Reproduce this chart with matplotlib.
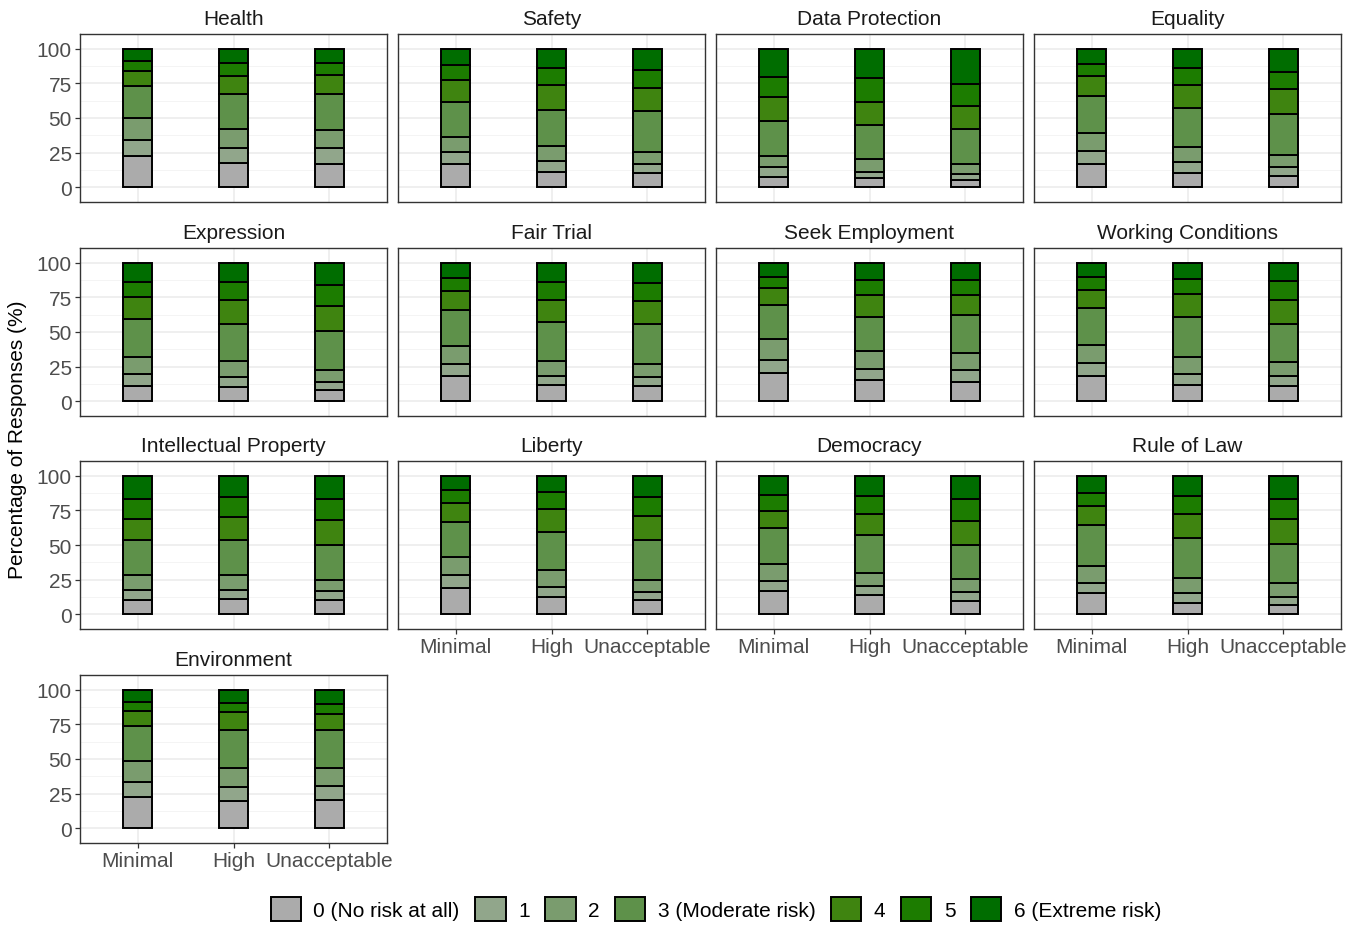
import numpy as np
import matplotlib
matplotlib.use('Agg')
import matplotlib.pyplot as plt
from matplotlib.patches import Patch

plt.rcParams['font.family'] = ['Liberation Sans', 'DejaVu Sans']

# categories on the x axis of every panel
risk_groups = ['Minimal', 'High', 'Unacceptable']

# answer levels, bottom to top of each bar
levels = ['0 (No risk at all)', '1', '2', '3 (Moderate risk)', '4', '5', '6 (Extreme risk)']
level_colors = ['#ABABAB', '#91A68B', '#7A9C6E', '#5E914A', '#3F8410', '#1C7C00', '#006D00']

# cumulative % at the top of levels 0..5 (level 6 always ends at 100)
# one row per risk group: Minimal, High, Unacceptable
health = [[22.9, 34.2, 50.1, 73.3, 84.3, 91.3],
          [17.3, 28.0, 41.7, 67.5, 80.0, 90.1],
          [16.9, 28.0, 41.0, 67.5, 81.4, 89.6]]
safety = [[16.6, 25.1, 36.6, 61.9, 77.6, 88.2],
          [10.8, 18.6, 29.9, 55.9, 73.5, 85.8],
          [10.1, 16.6, 25.3, 54.7, 71.8, 84.8]]
data_protection = [[7.5, 14.7, 22.7, 47.7, 65.1, 79.8],
                   [6.3, 10.8, 20.2, 45.3, 61.9, 78.6],
                   [5.5, 9.4, 17.1, 41.9, 58.8, 74.9]]
equality = [[16.9, 26.5, 39.0, 66.0, 80.2, 89.2],
            [10.4, 18.3, 28.9, 57.3, 74.0, 86.3],
            [8.4, 14.9, 23.1, 53.0, 70.8, 83.6]]
expression = [[11.3, 19.3, 32.0, 59.5, 75.4, 85.8],
              [10.6, 17.8, 28.7, 55.9, 72.8, 85.8],
              [8.4, 14.2, 22.9, 50.4, 68.7, 83.9]]
fair_trial = [[18.3, 27.2, 40.0, 66.0, 79.5, 88.9],
              [11.8, 18.3, 29.4, 56.9, 72.8, 85.8],
              [10.8, 17.3, 27.2, 55.9, 72.3, 85.3]]
seek_employment = [[20.2, 29.6, 44.6, 69.6, 81.7, 89.9],
                   [15.2, 23.4, 36.4, 61.2, 76.6, 87.7],
                   [14.0, 22.2, 34.5, 62.4, 76.4, 87.5]]
working_conditions = [[18.3, 27.5, 40.7, 67.5, 80.5, 89.4],
                      [12.0, 19.5, 31.8, 60.7, 77.1, 88.4],
                      [10.8, 18.3, 28.0, 56.1, 72.8, 86.5]]
intellectual_property = [[10.6, 17.3, 28.2, 53.3, 68.7, 82.9],
                         [11.3, 17.3, 28.0, 53.5, 70.1, 84.8],
                         [9.9, 16.6, 24.8, 50.1, 68.4, 82.9]]
liberty = [[19.0, 28.0, 41.4, 66.3, 80.7, 89.6],
           [12.3, 20.0, 31.6, 59.3, 75.9, 88.0],
           [9.9, 15.9, 24.6, 53.7, 71.1, 84.8]]
democracy = [[16.4, 24.1, 36.4, 62.4, 74.9, 86.0],
             [13.7, 20.2, 29.9, 57.1, 72.5, 85.1],
             [9.6, 16.1, 25.5, 49.9, 67.0, 82.9]]
rule_of_law = [[15.2, 22.9, 34.7, 64.6, 78.1, 87.7],
               [8.4, 15.2, 26.0, 54.7, 72.5, 85.3],
               [6.3, 12.5, 22.2, 50.6, 68.9, 83.1]]
environment = [[22.6, 33.7, 48.6, 73.6, 84.6, 91.1],
               [19.5, 30.0, 43.3, 70.7, 83.7, 90.4],
               [20.4, 30.5, 43.8, 70.9, 82.5, 90.1]]

topics = ['Health', 'Safety', 'Data Protection', 'Equality',
          'Expression', 'Fair Trial', 'Seek Employment', 'Working Conditions',
          'Intellectual Property', 'Liberty', 'Democracy', 'Rule of Law',
          'Environment']
topic_data = [health, safety, data_protection, equality,
              expression, fair_trial, seek_employment, working_conditions,
              intellectual_property, liberty, democracy, rule_of_law,
              environment]

W, H = 1363, 928
fig = plt.figure(figsize=(W / 100, H / 100), dpi=100)

col_left = [80, 398, 716, 1034]
row_top = [35, 249, 462, 676]
pw, ph = 307, 168

x = np.arange(1, len(risk_groups) + 1)
fs = 15

for i, (topic, cum) in enumerate(zip(topics, topic_data)):
    r, c = divmod(i, 4)
    ax = fig.add_axes([col_left[c] / W, 1 - (row_top[r] + ph) / H, pw / W, ph / H])

    tops = np.column_stack([np.array(cum), np.full(len(cum), 100.0)])
    heights = np.diff(np.column_stack([np.zeros(len(cum)), tops]), axis=1)
    bottom = np.zeros(len(cum))
    for k in range(len(levels)):
        ax.bar(x, heights[:, k], bottom=bottom, width=0.3, color=level_colors[k],
               edgecolor='black', linewidth=1.4, zorder=3)
        bottom += heights[:, k]

    ax.set_xlim(0.4, 3.6)
    ax.set_ylim(-10.7, 110.7)
    ax.set_yticks([0, 25, 50, 75, 100])
    ax.set_yticks([12.5, 37.5, 62.5, 87.5], minor=True)
    ax.set_xticks(x)
    ax.grid(True, which='major', color='#EBEBEB', linewidth=1.1, zorder=0)
    ax.grid(True, which='minor', axis='y', color='#F2F2F2', linewidth=0.6, zorder=0)
    ax.set_axisbelow(True)
    for s in ax.spines.values():
        s.set_color('#333333')
        s.set_linewidth(1.0)
    ax.tick_params(which='minor', length=0)
    ax.tick_params(colors='#333333', labelcolor='#4D4D4D', labelsize=fs,
                   length=3.5, width=0.9, pad=2.5)

    show_x = (r == 3) or (r == 2 and c > 0)
    if show_x:
        ax.set_xticklabels(risk_groups)
    else:
        ax.set_xticklabels([])
        ax.tick_params(axis='x', length=0)
    if c == 0:
        ax.set_yticklabels(['0', '25', '50', '75', '100'])
    else:
        ax.set_yticklabels([])
        ax.tick_params(axis='y', length=0)

    ax.set_title(topic, fontsize=fs, color='#1A1A1A', pad=7.5)

fig.text(18 / W, 1 - 440 / H, 'Percentage of Responses (%)', rotation=90,
         ha='center', va='center', fontsize=fs, color='black')

handles = [Patch(facecolor=col, edgecolor='black', linewidth=1.4) for col in level_colors]
fig.legend(handles, levels, loc='center', bbox_to_anchor=(716 / W, 1 - 910 / H),
           ncol=7, frameon=False, fontsize=fs, handlelength=1.45, handleheight=1.45,
           handletextpad=0.6, columnspacing=0.75, borderaxespad=0)

fig.savefig('out.png', dpi=100)
